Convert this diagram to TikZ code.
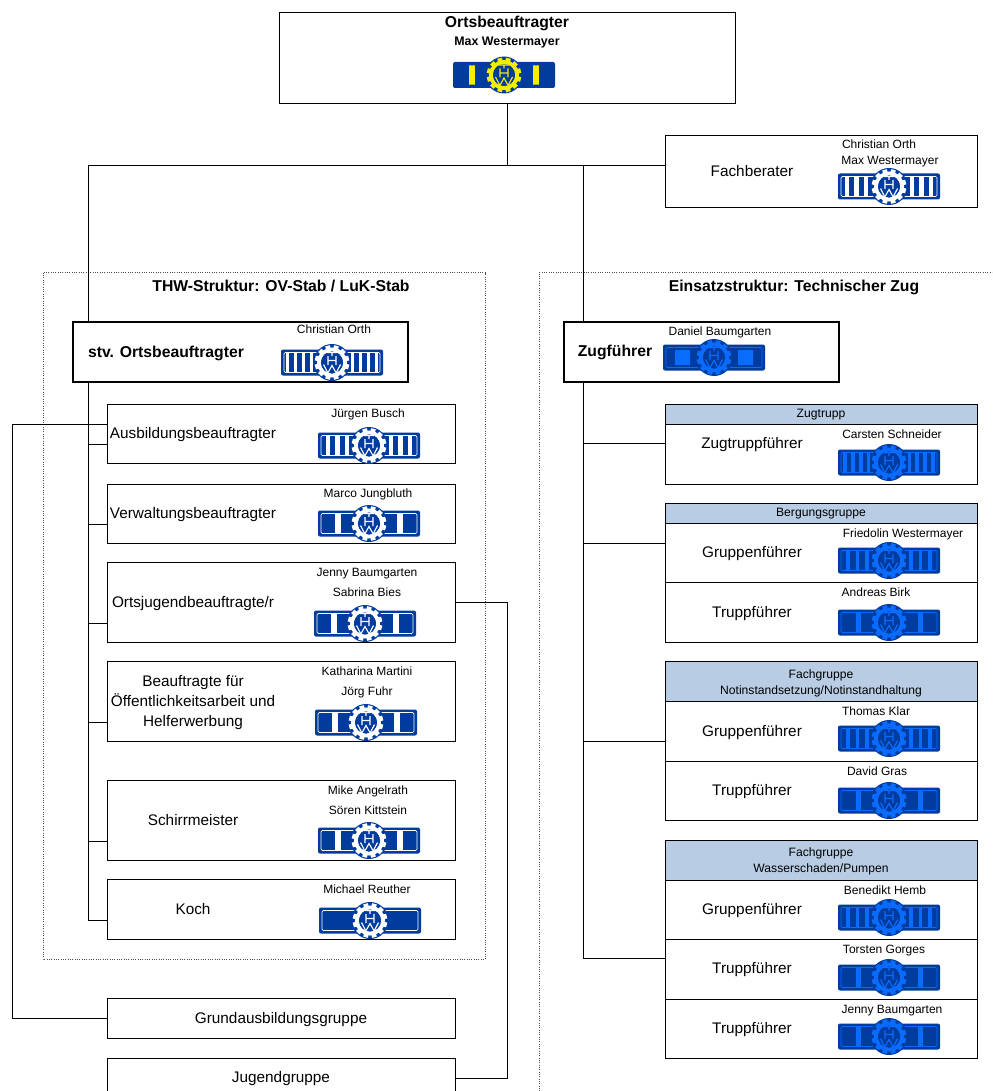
\documentclass[tikz,border=0pt]{standalone}
\usepackage{fontspec}
\setmainfont{Liberation Sans}
\usetikzlibrary{calc}
\definecolor{thwdark}{HTML}{003B9E}
\definecolor{thwlight}{HTML}{0A6CFF}
\definecolor{thwyellow}{HTML}{F5EE00}
\definecolor{headblue}{HTML}{B8CCE4}
\newcounter{lblc}
\newcommand{\lbl}[4][]{\stepcounter{lblc}\node[lab,#1] (lbl\arabic{lblc}) at (#2,#3) {\vphantom{Ág}#4\vphantom{Ág}};}
% args: x, y, foreground colour, stripe list (offset/width), outline colour
\newcommand{\thwbadge}[5]{%
  \begin{scope}[shift={(#1,#2)}]
    \fill[thwdark,rounded corners=1.5pt] (-51,-13) rectangle (51,13);
    \foreach \sx/\sw in {#4}{%
      \fill[#3] (-\sx-\sw/2,-10) rectangle (-\sx+\sw/2,10);
      \fill[#3] (\sx-\sw/2,-10) rectangle (\sx+\sw/2,10);
    }
    \draw[#5,line width=0.45pt,rounded corners=1pt] (-48,-10) rectangle (48,10);
    \fill[thwdark] (0,0) circle (18.5);
    \foreach \ang in {0,30,...,330}{%
      \fill[#3,rotate=\ang+15] (-2.4,12) rectangle (2.4,17.3);
    }
    \draw[#3,line width=3pt] (0,0) circle (13);
    \fill[thwdark] (0,0) circle (11);
    \draw[#3,line width=0.85pt] (-5,-10) -- (5,-10) (0,-10) -- (0,-6.5)
      (-4,-6.5) -- (-4,2.5) (4,-6.5) -- (4,2.5) (-4,-2) -- (4,-2)
      (-8.5,2) -- (-4.2,10.5) -- (0,3) -- (4.2,10.5) -- (8.5,2);
  \end{scope}}
\tikzset{
  lab/.style={inner sep=0pt,align=center,text=black},
  pers/.style={font=\fontsize{9}{11}\selectfont},
  role/.style={font=\fontsize{11.5}{15}\selectfont},
  head/.style={font=\fontsize{9.1}{12}\selectfont},
  bold/.style={font=\fontsize{11.8}{14}\selectfont\bfseries},
  box/.style={draw=black,fill=white,line width=0.75pt,inner sep=0pt},
  bigbox/.style={draw=black,fill=white,line width=1.5pt,inner sep=0pt},
  hbox/.style={box,fill=headblue},
  wh/.style 2 args={minimum width=#1*0.75pt,minimum height=#2*0.75pt},
  conn/.style={draw=black,line width=0.75pt},
  dots/.style={draw=black!70,line width=0.75pt,densely dotted},
}
\begin{document}
\begin{tikzpicture}[x=0.75pt,y=-0.75pt]
\useasboundingbox (0,-0.5) rectangle (992,1090.5);
\clip (0,-0.5) rectangle (992,1090.5);
\fill[white] (0,-1) rectangle (993,1092);
% dotted groups
\draw[dots] (43,272) rectangle (485,959);
\draw[dots] (993,272) -- (539,272) -- (539,1092);
% boxes
\node[box,wh={456}{91}] (top) at (507,57.5) {};
\node[box,wh={312}{72}] (fach) at (821,171) {};
\node[bigbox,wh={335}{60}] (stv) at (240.5,351) {};
\node[bigbox,wh={275}{60}] (zug) at (701.5,351) {};
\node[box,wh={348}{59}] (ausb) at (281,433.5) {};
\node[box,wh={348}{59}] (verw) at (281,513.5) {};
\node[box,wh={348}{80}] (orts) at (281,602) {};
\node[box,wh={348}{80}] (oeff) at (281,701) {};
\node[box,wh={348}{80}] (schirr) at (281,820) {};
\node[box,wh={348}{60}] (koch) at (281,909) {};
\node[box,wh={348}{40}] (grund) at (281,1018) {};
\node[box,wh={348}{40}] (jug) at (281,1078) {};
\node[hbox,wh={312}{20}] (zth) at (821,414) {};
\node[box,wh={312}{60}] (ztb) at (821,454) {};
\node[hbox,wh={312}{20}] (bgh) at (821,513) {};
\node[box,wh={312}{59}] (bg1) at (821,552.5) {};
\node[box,wh={312}{60}] (bg2) at (821,612) {};
\node[hbox,wh={312}{40}] (nih) at (821,681) {};
\node[box,wh={312}{60}] (ni1) at (821,731) {};
\node[box,wh={312}{59}] (ni2) at (821,790.5) {};
\node[hbox,wh={312}{40}] (wph) at (821,860) {};
\node[box,wh={312}{59}] (wp1) at (821,909.5) {};
\node[box,wh={312}{60}] (wp2) at (821,969) {};
\node[box,wh={312}{59}] (wp3) at (821,1028.5) {};
% connector junctions
\coordinate (jL) at (88,165);
\coordinate (jR) at (583,165);
\coordinate (lx) at (12,424);
\coordinate (rx) at (507,602);
\draw[conn] (top.south) -- (top.south |- jL);
\draw[conn] (jL) -- (fach.west |- jL);
\draw[conn] (jL) -- (jL |- stv.north);
\draw[conn] (jR) -- (jR |- zug.north);
\coordinate (a1) at ($(ausb.south west)+(0,-20)$);
\coordinate (a2) at ($(verw.south west)+(0,-20)$);
\coordinate (a3) at ($(orts.south west)+(0,-20)$);
\coordinate (a4) at ($(oeff.south west)+(0,-20)$);
\coordinate (a5) at ($(schirr.south west)+(0,-20)$);
\coordinate (a6) at ($(koch.south west)+(0,-20)$);
\draw[conn] (jL |- stv.south) -- (jL |- a6) -- (a6);
\foreach \c in {a1,a2,a3,a4,a5}{\draw[conn] (jL |- \c) -- (\c);}
\coordinate (b1) at ($(ztb.north west)+(0,19)$);
\coordinate (b2) at ($(bg1.north west)+(0,20)$);
\coordinate (b3) at ($(ni1.north west)+(0,40)$);
\coordinate (b4) at ($(wp2.north west)+(0,19)$);
\draw[conn] (jR |- zug.south) -- (jR |- b4) -- (b4);
\foreach \c in {b1,b2,b3}{\draw[conn] (jR |- \c) -- (\c);}
\draw[conn] (lx -| ausb.west) -- (lx) -- (lx |- grund.west) -- (grund.west);
\draw[conn] (rx -| orts.east) -- (rx) -- (rx |- jug.east) -- (jug.east);
% texts
\lbl[bold]{507}{22}{Ortsbeauftragter}
\lbl[font=\fontsize{9.3}{10}\selectfont\bfseries]{507}{41}{Max Westermayer}
\lbl[role]{752}{171}{Fachberater}
\lbl[pers]{879}{144}{Christian Orth}
\lbl[pers]{890}{160}{Max Westermayer}
\lbl[bold]{281}{286}{THW-Struktur: OV-Stab / LuK-Stab}
\lbl[bold]{794}{286}{Einsatzstruktur: Technischer Zug}
\lbl[bold]{166}{352}{stv. Ortsbeauftragter}
\lbl[pers]{334}{329}{Christian Orth}
\lbl[role]{193}{433}{Ausbildungsbeauftragter}
\lbl[pers]{368}{413}{Jürgen Busch}
\lbl[role]{193}{513}{Verwaltungsbeauftragter}
\lbl[pers]{368}{493}{Marco Jungbluth}
\lbl[role]{193}{602}{Ortsjugendbeauftragte/r}
\lbl[pers]{367}{572}{Jenny Baumgarten}
\lbl[pers]{367}{592}{Sabrina Bies}
\lbl[role]{193}{701}{Beauftragte für\\Öffentlichkeitsarbeit und\\Helferwerbung}
\lbl[pers]{367}{671}{Katharina Martini}
\lbl[pers]{367}{691}{Jörg Fuhr}
\lbl[role]{193}{820}{Schirrmeister}
\lbl[pers]{368}{790}{Mike Angelrath}
\lbl[pers]{368}{810}{Sören Kittstein}
\lbl[role]{193}{909}{Koch}
\lbl[pers]{367}{889}{Michael Reuther}
\lbl[role]{281}{1018}{Grundausbildungsgruppe}
\lbl[role]{281}{1077}{Jugendgruppe}
\lbl[bold]{615}{351}{Zugführer}
\lbl[pers]{720}{331}{Daniel Baumgarten}
\lbl[head]{821}{413}{Zugtrupp}
\lbl[role]{752}{443}{Zugtruppführer}
\lbl[pers]{892}{434}{Carsten Schneider}
\lbl[head]{821}{512}{Bergungsgruppe}
\lbl[role]{752}{552}{Gruppenführer}
\lbl[pers]{903}{533}{Friedolin Westermayer}
\lbl[role]{752}{612}{Truppführer}
\lbl[pers]{876}{592}{Andreas Birk}
\lbl[head]{821}{682}{Fachgruppe\\Notinstandsetzung/Notinstandhaltung}
\lbl[role]{752}{731}{Gruppenführer}
\lbl[pers]{876}{711}{Thomas Klar}
\lbl[role]{752}{790}{Truppführer}
\lbl[pers]{877}{771}{David Gras}
\lbl[head]{821}{860}{Fachgruppe\\Wasserschaden/Pumpen}
\lbl[role]{752}{909}{Gruppenführer}
\lbl[pers]{885}{890}{Benedikt Hemb}
\lbl[role]{752}{968}{Truppführer}
\lbl[pers]{884}{949}{Torsten Gorges}
\lbl[role]{752}{1028}{Truppführer}
\lbl[pers]{892}{1009}{Jenny Baumgarten}
% THW badges
\thwbadge{504}{74.5}{thwyellow}{32/5.5}{thwdark}
\thwbadge{889}{186}{white}{42/4.5,32.5/4.5,23/4.5}{white}
\thwbadge{332}{362}{white}{44.5/3.6,36.5/3.6,28.5/3.6,20.5/3.6}{white}
\thwbadge{369}{445}{white}{41/4.5,31.5/4.5,22/4.5}{white}
\thwbadge{369}{523}{white}{31/5.5}{white}
\thwbadge{365}{623}{white}{31/5.5}{white}
\thwbadge{366}{722}{white}{31/5.5}{white}
\thwbadge{369}{840}{white}{31/5.5}{white}
\thwbadge{370}{920}{white}{}{white}
\thwbadge{714}{357}{thwlight}{}{thwlight}
\fill[thwlight] (675,349.5) rectangle (690,364.5) (738,349.5) rectangle (753,364.5);
\thwbadge{889}{462}{thwlight}{44/3.6,36/3.6,28/3.6,20.5/3.6}{thwlight}
\thwbadge{889}{560}{thwlight}{41/3.5,31.5/3.5,22/3.5}{thwlight}
\thwbadge{889}{622}{thwlight}{31/5}{thwlight}
\thwbadge{889}{738}{thwlight}{41/3.5,31.5/3.5,22/3.5}{thwlight}
\thwbadge{889}{800}{thwlight}{31/5}{thwlight}
\thwbadge{889}{917}{thwlight}{41/3.5,31.5/3.5,22/3.5}{thwlight}
\thwbadge{889}{977}{thwlight}{31/5}{thwlight}
\thwbadge{889}{1036}{thwlight}{31/5}{thwlight}
\end{tikzpicture}
\end{document}
